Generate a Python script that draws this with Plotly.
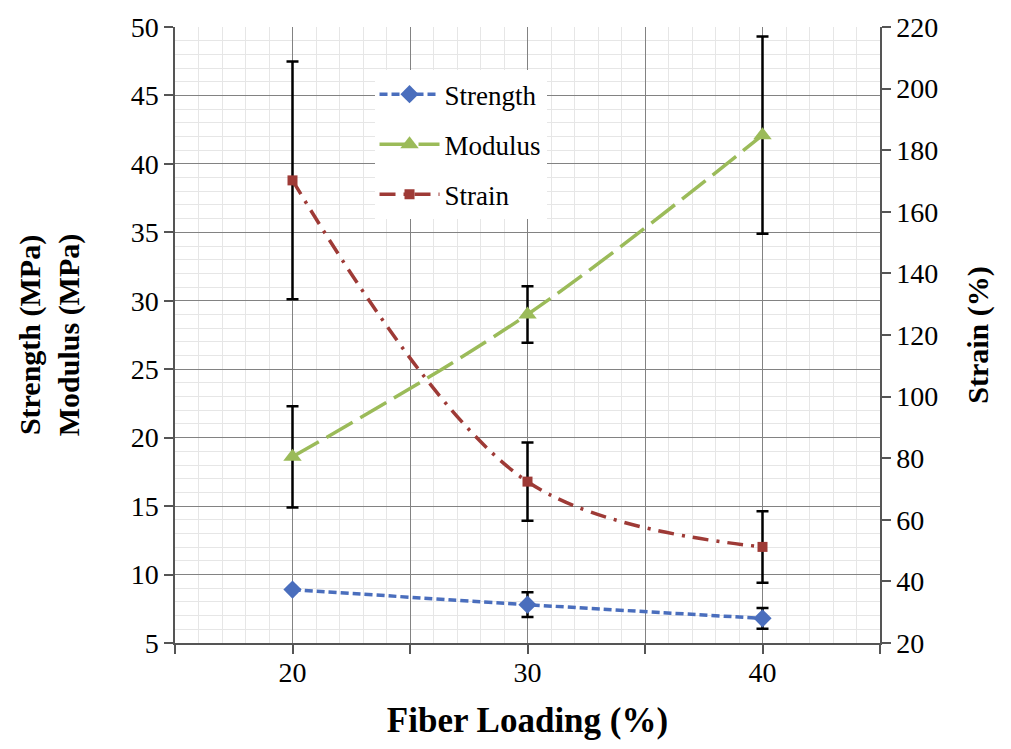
import plotly.graph_objects as go

fiber_loading = [20, 30, 40]
strength = [8.9, 7.8, 6.8]
strength_err = [0.0, 0.9, 0.75]
modulus = [18.6, 29.0, 42.1]
modulus_err = [3.7, 2.07, 7.2]
strain = [170.2, 72.4, 51.2]
strain_err = [38.6, 12.7, 11.6]

x_tickvals = [15, 20, 25, 30, 35, 40, 45]
x_ticktext = ["", "20", "", "30", "", "40", ""]

FONT = "Liberation Serif"
BLUE = "#4A6EBD"
GREEN = "#9BBB59"
RED = "#9E3A36"

fig = go.Figure()

fig.add_trace(go.Scatter(
    x=fiber_loading, y=strength, name="Strength", mode="lines+markers",
    line=dict(color=BLUE, width=3.5, dash="8px,4px", shape="spline"),
    marker=dict(symbol="diamond", size=14, color=BLUE),
    error_y=dict(type="data", array=strength_err, color="black", thickness=2.5, width=6),
    legendgroup="a",
))
fig.add_trace(go.Scatter(
    x=fiber_loading, y=modulus, name="Modulus", mode="lines+markers",
    line=dict(color=GREEN, width=3.5, dash="30px,9px", shape="spline"),
    marker=dict(symbol="triangle-up", size=16, color=GREEN),
    error_y=dict(type="data", array=modulus_err, color="black", thickness=2.5, width=6),
    legendgroup="b",
))
fig.add_trace(go.Scatter(
    x=fiber_loading, y=strain, name="Strain", mode="lines+markers", yaxis="y2",
    line=dict(color=RED, width=3.5, dash="16px,8px,3px,8px", shape="spline"),
    marker=dict(symbol="square", size=10, color=RED),
    error_y=dict(type="data", array=strain_err, color="black", thickness=2.5, width=6),
    legendgroup="c",
))

fig.update_layout(
    width=1011, height=749,
    margin=dict(l=175, r=131, t=27, b=106),
    paper_bgcolor="white", plot_bgcolor="white",
    font=dict(family=FONT, size=28, color="black"),
    showlegend=True,
    legend=dict(
        x=0.283, y=0.93, xanchor="left", yanchor="top",
        bgcolor="white", borderwidth=0,
        font=dict(family=FONT, size=27, color="black"),
        tracegroupgap=12, itemwidth=60,
    ),
    xaxis=dict(
        range=[15, 45], tickvals=x_tickvals, ticktext=x_ticktext,
        ticks="outside", ticklen=9, tickcolor="#555", tickwidth=1.5,
        ticklabelstandoff=-5,
        showline=True, linecolor="#555", linewidth=1.5,
        showgrid=True, gridcolor="#828282", gridwidth=1,
        minor=dict(dtick=1, showgrid=True, gridcolor="#e6e6e6", gridwidth=1),
        zeroline=False,
        title=dict(text="<b>Fiber Loading (%)</b>", font=dict(family=FONT, size=35), standoff=20),
        tickfont=dict(family=FONT, size=28),
    ),
    yaxis=dict(
        range=[5, 50], dtick=5, tick0=5,
        ticks="outside", ticklen=9, tickcolor="#555", tickwidth=1.5,
        showline=True, linecolor="#555", linewidth=1.5,
        showgrid=True, gridcolor="#828282", gridwidth=1,
        minor=dict(dtick=1, showgrid=True, gridcolor="#e6e6e6", gridwidth=1),
        zeroline=False,
        title=dict(text="<b>Strength (MPa)<br>Modulus (MPa)</b>", font=dict(family=FONT, size=30), standoff=42),
        tickfont=dict(family=FONT, size=28),
    ),
    yaxis2=dict(
        range=[20, 220], dtick=20, tick0=20, overlaying="y", side="right",
        ticks="outside", ticklen=9, tickcolor="#555", tickwidth=1.5,
        showline=True, linecolor="#555", linewidth=1.5,
        showgrid=False, zeroline=False,
        title=dict(text="<b>Strain (%)</b>", font=dict(family=FONT, size=30), standoff=30),
        tickfont=dict(family=FONT, size=28),
    ),
)

fig.write_html("out.html")
